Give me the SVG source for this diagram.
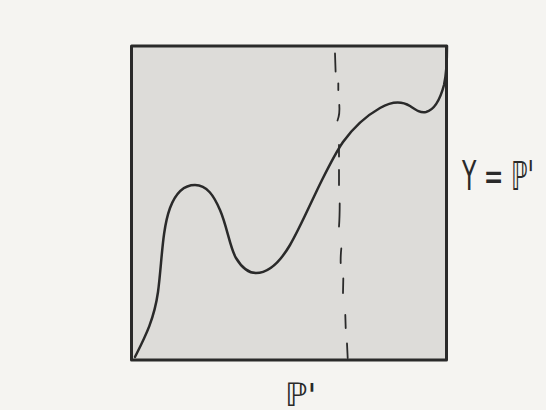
<svg xmlns="http://www.w3.org/2000/svg" width="546" height="410" viewBox="0 0 546 410">
<style>
.ink{fill:none;stroke:#2a2a2a;stroke-linecap:round;stroke-linejoin:round}
.box{fill:#dddcd9;stroke:#2a2a2a;stroke-linejoin:round}
.lbl{font-family:"DejaVu Sans","Liberation Sans",sans-serif;fill:#2a2a2a}
</style>
<rect width="546" height="410" fill="#f5f4f1"/>
<g id="plot">
<rect x="131.5" y="46" width="315" height="314" class="box" stroke-width="3"/>
</g>
<g id="connectors">
<path id="curve" class="ink" stroke-width="2.5" d="M135,357 C145,337 154,320 158,292 C162,262 162,230 170,208 C176,192 185,185 195,185 C207,185 214,196 220,210 C227,226 230,248 236,258 C242,268 248,273 256,273 C268,273 280,262 290,245 C300,228 312,200 322,180 C330,164 336,152 343,142 C353,128 366,116 380,108 C392,101 402,101 410,106 C416,110 420,113 426,112 C434,110 440,100 444,85 C447,72 447,58 447,46"/>
<g id="dashed" class="ink" stroke-width="1.8">
<path d="M335,53.5 L335.6,71.5"/>
<path d="M338.3,83.5 L338.3,90"/>
<path d="M339.3,105 Q340,114 337.5,120.5"/>
<path d="M339,145 L339,156.5"/>
<path d="M339,170 L339,185"/>
<path d="M339.7,203.5 Q339.7,217 339,226.5"/>
<path d="M341.3,248.5 Q340.5,256 340.7,263"/>
<path d="M343.3,278.5 L343,293"/>
<path d="M345.3,315 L345.7,328"/>
<path d="M347,343.5 L347.7,358"/>
</g>
</g>
<g id="label-y">
<text class="lbl" x="462" y="190" font-size="40" textLength="72" lengthAdjust="spacingAndGlyphs">Y = ℙ'</text>
</g>
<g id="label-x">
<text class="lbl" x="285" y="406" font-size="32">ℙ'</text>
</g>
</svg>
